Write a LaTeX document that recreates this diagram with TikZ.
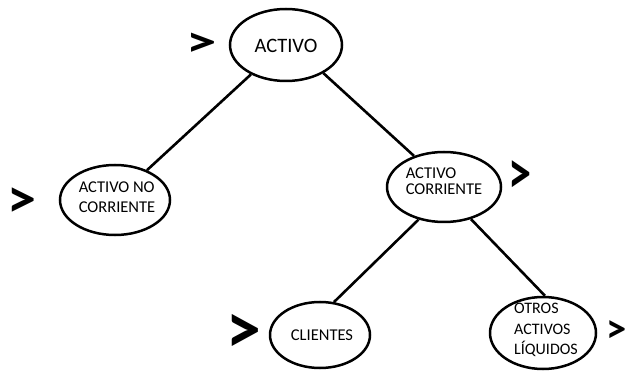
\documentclass[tikz,border=0pt]{standalone}
\usepackage{fontspec}
\setmainfont{Carlito}
\usetikzlibrary{shapes.geometric}

\begin{document}
\begin{tikzpicture}[x=1pt,y=-1pt,
  bubble/.style={draw=black, line width=2.5pt, ellipse, inner sep=0pt},
  link/.style={draw=black, line width=2.6pt},
  lbl/.style={inner sep=0pt, align=left, font=\fontsize{16.5}{20}\selectfont},
  chev/.style={inner sep=0pt, font=\bfseries\fontsize{58}{58}\selectfont}
]
\useasboundingbox (0,0) rectangle (626,371);
\fill[white] (0,0) rectangle (626,371);

% ellipses
\node[bubble, minimum width=112pt, minimum height=72pt] (act) at (286,45) {};
\node[bubble, minimum width=110pt, minimum height=70pt] (anc) at (115,200) {};
\node[bubble, minimum width=114pt, minimum height=70pt] (ac)  at (444,187) {};
\node[bubble, minimum width=100pt, minimum height=66pt] (cl)  at (320,335) {};
\node[bubble, minimum width=106pt, minimum height=72pt] (ot)  at (543,333) {};

% labels
\node[lbl, font=\fontsize{20.5}{24}\selectfont] (tact) at (286,46) {ACTIVO};
\node[lbl] (tanc) at (117,197) {ACTIVO NO\\CORRIENTE};
\node[lbl, font=\fontsize{16.5}{16}\selectfont] (tac) at (444,181) {ACTIVO\\CORRIENTE};
\node[lbl] (tcl) at (322,335) {CLIENTES};
\node[lbl, font=\fontsize{16}{20.5}\selectfont] (tot) at (546,330) {OTROS\\ACTIVOS\\LÍQUIDOS};

% connectors
\draw[link] (act.220) -- (anc.43);
\draw[link] (act.323) -- (ac.134);
\draw[link] (ac.232) -- (cl.67);
\draw[link] (ac.310) -- (ot.87);

% chevrons
\node[chev, xscale=1.05, yscale=0.75] (g1) at (202,45) {>};
\node[chev, xscale=1.0, yscale=0.95] (g2) at (22,203) {>};
\node[chev, xscale=0.8, yscale=1.05] (g3) at (520,177) {>};
\node[chev, xscale=1.2, yscale=1.25] (g4) at (244,334) {>};
\node[chev, xscale=0.7, yscale=0.7] (g5) at (617,332) {>};
\end{tikzpicture}
\end{document}
